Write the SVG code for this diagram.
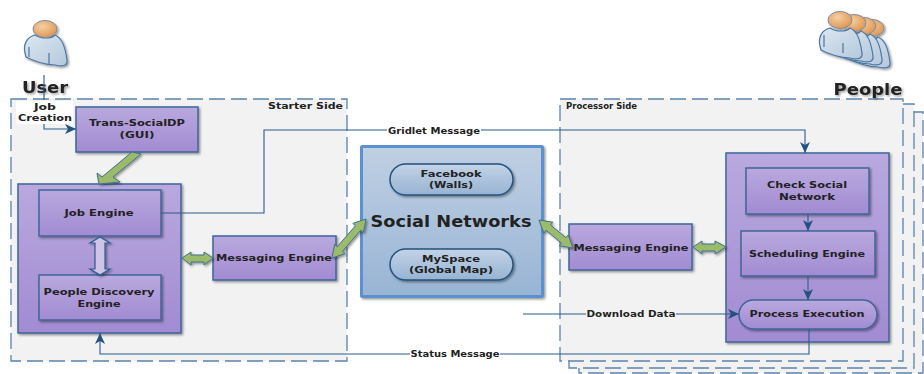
<svg xmlns="http://www.w3.org/2000/svg" width="924" height="374" viewBox="0 0 924 374">
<style>
text{font-family:"DejaVu Sans","Liberation Sans",sans-serif;font-weight:700;font-size:9.500px;fill:#222;text-anchor:middle}
.side{fill:#f2f2f2;stroke:#5b82ad;stroke-width:1.3;stroke-dasharray:16 6}
.box{fill:url(#purple);stroke:#3f659b;stroke-width:1.5;filter:url(#sh)}
.pill{fill:url(#blueb);stroke:#24527f;stroke-width:1.5;filter:url(#sh)}
.line{fill:none;stroke:#2b5c8f;stroke-width:1.1}
.arr{fill:none;stroke:#2b5c8f;stroke-width:1.1;marker-end:url(#tip)}
.fat{fill:#9bbb6b;stroke:#3f6f8f;stroke-width:1}
.lab{fill:#fff}
.head{font-size:15px;filter:url(#sh)}
.sm{font-size:9px}
.tick{stroke:#4c76a3;stroke-width:1.2;fill:none}
</style>
<defs>
<linearGradient id="purple" x1="0" y1="0" x2="0" y2="1"><stop offset="0" stop-color="#b9a9de"/><stop offset="1" stop-color="#a28bd2"/></linearGradient>
<linearGradient id="blue" x1="0" y1="0" x2="0" y2="1"><stop offset="0" stop-color="#c0d0e3"/><stop offset="1" stop-color="#98b4d4"/></linearGradient>
<linearGradient id="blueb" x1="0" y1="0" x2="0" y2="1"><stop offset="0" stop-color="#c2d3e6"/><stop offset="1" stop-color="#97b3d2"/></linearGradient>
<linearGradient id="body" x1="0" y1="0" x2="1" y2="1"><stop offset="0" stop-color="#dde7f1"/><stop offset="1" stop-color="#b4c8dc"/></linearGradient>
<radialGradient id="head" cx="0.4" cy="0.35" r="0.7"><stop offset="0" stop-color="#f6cfa2"/><stop offset="1" stop-color="#dc9550"/></radialGradient>
<filter id="sh" x="-10%" y="-10%" width="125%" height="125%"><feDropShadow dx="1.5" dy="1.5" stdDeviation="1" flood-color="#000" flood-opacity="0.4"/></filter>
<marker id="tip" markerUnits="userSpaceOnUse" markerWidth="12" markerHeight="10" refX="11" refY="5" orient="auto"><path d="M0 0L11 5L0 10L3 5Z" fill="#24527f"/></marker>
<path id="torso" d="M-20 33C-22 24-18 17-10 15C-4 19 6 19 10 15C17 18 20 26 22 40C23 46 17 47 10 45C1 45-12 41-19 37Z" fill="url(#body)" stroke="#4c76a3" stroke-width="1.2"/>
<ellipse id="face" rx="12" ry="8.500" fill="url(#head)" stroke="#7d8ea3" stroke-width="1"/>
</defs>

<g id="starter-side">
<rect class="side" x="11" y="99" width="336" height="262"/>
<text x="305.500" y="109" textLength="75" lengthAdjust="spacingAndGlyphs">Starter Side</text>
</g>
<g id="processor-side">
<rect class="side" x="579" y="112" width="344" height="261"/>
<rect class="side" x="569" y="104" width="345" height="264"/>
<rect class="side" x="560" y="99" width="343" height="262"/>
<text x="601.500" y="109" textLength="71" lengthAdjust="spacingAndGlyphs">Processor Side</text>
</g>

<g id="user">
<g filter="url(#sh)">
<use href="#torso" transform="translate(45 20)"/>
<path class="tick" d="M29 47V57M49 53V65"/>
<use href="#face" transform="translate(45 29)"/>
</g>
<text class="head" x="45" y="93" textLength="46" lengthAdjust="spacingAndGlyphs">User</text>
</g>
<g id="people">
<g filter="url(#sh)">
<use href="#torso" transform="translate(868 22)"/>
<use href="#face" transform="translate(872 28)"/>
<use href="#torso" transform="translate(860 19)"/>
<use href="#face" transform="translate(864 26)"/>
<use href="#torso" transform="translate(851 16)"/>
<use href="#face" transform="translate(854 23)"/>
<use href="#torso" transform="translate(840 13)"/>
<path class="tick" d="M824 35V47M843 43V53"/>
<use href="#face" transform="translate(840 20)"/>
</g>
<text class="head" x="868" y="95" textLength="69" lengthAdjust="spacingAndGlyphs">People</text>
</g>

<g id="trans-socialdp">
<rect class="box" x="76" y="107" width="122" height="45"/>
<text x="137" y="126" textLength="96" lengthAdjust="spacingAndGlyphs">Trans-SocialDP</text>
<text x="137" y="138" textLength="35" lengthAdjust="spacingAndGlyphs">(GUI)</text>
</g>
<g id="starter-engines">
<rect class="box" x="18" y="184" width="163" height="149"/>
</g>
<g id="job-engine">
<rect class="box" x="39" y="190" width="122" height="46"/>
<text x="99" y="216" textLength="69" lengthAdjust="spacingAndGlyphs">Job Engine</text>
</g>
<g id="people-discovery-engine">
<rect class="box" x="39" y="275" width="122" height="45"/>
<text x="99" y="295" textLength="111" lengthAdjust="spacingAndGlyphs">People Discovery</text>
<text x="99" y="307" textLength="43" lengthAdjust="spacingAndGlyphs">Engine</text>
</g>
<g id="messaging-engine-left">
<rect class="box" x="213" y="236" width="123" height="44"/>
<text x="274" y="261" textLength="116" lengthAdjust="spacingAndGlyphs">Messaging Engine</text>
</g>
<g id="social-networks">
<rect x="361.500" y="146.500" width="181" height="150" rx="1" fill="url(#blue)" stroke="#5b90cf" stroke-width="3" filter="url(#sh)"/>
<rect class="pill" x="390" y="164" width="123" height="31" rx="15.500"/>
<text x="451" y="177" textLength="61" lengthAdjust="spacingAndGlyphs">Facebook</text>
<text x="451" y="188" textLength="44" lengthAdjust="spacingAndGlyphs">(Walls)</text>
<rect class="pill" x="390" y="249" width="123" height="31" rx="15.500"/>
<text x="451" y="262" textLength="58" lengthAdjust="spacingAndGlyphs">MySpace</text>
<text x="451" y="273" textLength="84" lengthAdjust="spacingAndGlyphs">(Global Map)</text>
<text x="451" y="227" style="font-size:15px" textLength="161" lengthAdjust="spacingAndGlyphs">Social Networks</text>
</g>
<g id="messaging-engine-right">
<rect class="box" x="569" y="224" width="123" height="46"/>
<text x="631" y="251" textLength="115" lengthAdjust="spacingAndGlyphs">Messaging Engine</text>
</g>
<g id="processor-engines">
<rect class="box" x="726" y="153" width="163" height="189"/>
</g>
<g id="check-social-network">
<rect class="box" x="746" y="168" width="123" height="46"/>
<text x="807" y="188" textLength="80" lengthAdjust="spacingAndGlyphs">Check Social</text>
<text x="807" y="200" textLength="56" lengthAdjust="spacingAndGlyphs">Network</text>
</g>
<g id="scheduling-engine">
<rect class="box" x="741" y="231" width="134" height="45"/>
<text x="807" y="257" textLength="116" lengthAdjust="spacingAndGlyphs">Scheduling Engine</text>
</g>
<g id="process-execution">
<rect class="box" x="739" y="300" width="138" height="29" rx="14.500"/>
<text x="807" y="317" textLength="115" lengthAdjust="spacingAndGlyphs">Process Execution</text>
</g>

<g id="connectors">
<rect class="lab" x="16" y="101" width="57" height="23"/>
<path class="line" d="M44 75V100"/>
<path class="arr" d="M44 124V129H76"/>
<path class="arr" d="M161 213H264V130H805V153"/>
<path class="arr" d="M523 314H739"/>
<path class="arr" d="M809 329V354H100V333"/>
<path class="arr" d="M808 214V231"/>
<path class="arr" d="M808 276V300"/>
<rect class="lab" x="387" y="125" width="94" height="11"/>
<rect x="586" y="309" width="90" height="10" fill="#f2f2f2"/>
<rect class="lab" x="410" y="349" width="90" height="11"/>
<text class="sm" x="434" y="134" textLength="92" lengthAdjust="spacingAndGlyphs">Gridlet Message</text>
<text class="sm" x="631" y="317" textLength="89" lengthAdjust="spacingAndGlyphs">Download Data</text>
<text class="sm" x="455" y="357" textLength="89" lengthAdjust="spacingAndGlyphs">Status Message</text>
<text class="sm" x="45" y="110" textLength="22" lengthAdjust="spacingAndGlyphs">Job</text>
<text class="sm" x="45" y="121" textLength="54" lengthAdjust="spacingAndGlyphs">Creation</text>
<g filter="url(#sh)">
<path class="fat" d="M132 152L141 154L113 177L120 182L99 184L97 173L102 177Z"/>
<path class="fat" d="M182 258L191 252V255H204V252L213 258L204 265V262H191V265Z"/>
<path class="fat" d="M693 247L702 241V244H715V241L726 247L715 254V251H702V254Z"/>
<path class="fat" d="M332 258L345.200 253.600L342.500 251.300L360.700 230.300L363.400 232.600L366 219L352.800 223.400L355.500 225.700L337.300 246.700L334.600 244.400Z"/>
<path class="fat" d="M539 220L543.800 233L546 230.300L561.500 243.100L559.200 245.800L573 248L568.200 235L565.900 237.700L550.500 224.900L552.800 222.200Z"/>
<path d="M100 237L110 243H105V269H110L100 275L90 269H95V243H90Z" fill="#cfc4e8" stroke="#2b5c8f" stroke-width="1.200"/>
</g>
</g>
</svg>
